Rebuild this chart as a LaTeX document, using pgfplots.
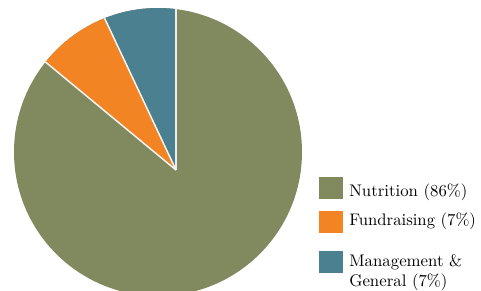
\documentclass[border=0pt]{standalone}
\usepackage{pgfplots}
\pgfplotsset{compat=1.18}
\definecolor{nut}{HTML}{808A5E}
\definecolor{fund}{HTML}{F28424}
\definecolor{mgmt}{HTML}{4A8090}
% shares in percent: Management & General, Fundraising, Nutrition
\def\mgmtval{7}
\def\fundval{7}
\def\nutval{86}
\pgfmathsetmacro{\aA}{90}
\pgfmathsetmacro{\aB}{\aA+3.6*\mgmtval}
\pgfmathsetmacro{\aC}{\aB+3.6*\fundval}
\begin{document}
\begin{tikzpicture}
\begin{axis}[name=ax, x=1pt, y=1pt, xmin=0, xmax=481, ymin=0, ymax=290,
  hide axis, clip=false, anchor=origin, at={(0,0)}]
\fill[nut] (axis cs:158,138) circle[radius=144pt];
\begin{scope}
  \clip (axis cs:158,138) circle[radius=144pt];
  \fill[mgmt] (axis cs:176,120) -- +(\aA:400pt) -- +(\aB:400pt) -- cycle;
  \fill[fund] (axis cs:176,120) -- +(\aB:400pt) -- +(\aC:400pt) -- cycle;
  \draw[white!85!gray, line width=1.5pt] (axis cs:176,120) -- +(\aA:400pt);
  \draw[white!92!gray, line width=1.5pt] (axis cs:176,120) -- +(\aB:400pt);
  \draw[white!92!gray, line width=1.5pt] (axis cs:176,120) -- +(\aC:400pt);
\end{scope}
% legend
\fill[nut]  (axis cs:319,91) rectangle (axis cs:343,113);
\fill[fund] (axis cs:319,57) rectangle (axis cs:343,79);
\fill[mgmt] (axis cs:319,17) rectangle (axis cs:343,39);
\node[anchor=base west, inner sep=0pt, scale=1.68, font=\fontsize{10}{12}\selectfont] at (axis cs:349,94) {Nutrition (86\%)};
\node[anchor=base west, inner sep=0pt, scale=1.67, font=\fontsize{10}{12}\selectfont] at (axis cs:349,64.3) {Fundraising (7\%)};
\node[anchor=base west, inner sep=0pt, scale=1.68, font=\fontsize{10}{12}\selectfont] at (axis cs:349,24) {Management \&};
\node[anchor=base west, inner sep=0pt, scale=1.68, font=\fontsize{10}{12}\selectfont] at (axis cs:349,3.5) {General (7\%)};
\end{axis}
\pgfresetboundingbox
\path[use as bounding box] (ax.south west) rectangle (ax.north east);
\end{tikzpicture}
\end{document}
